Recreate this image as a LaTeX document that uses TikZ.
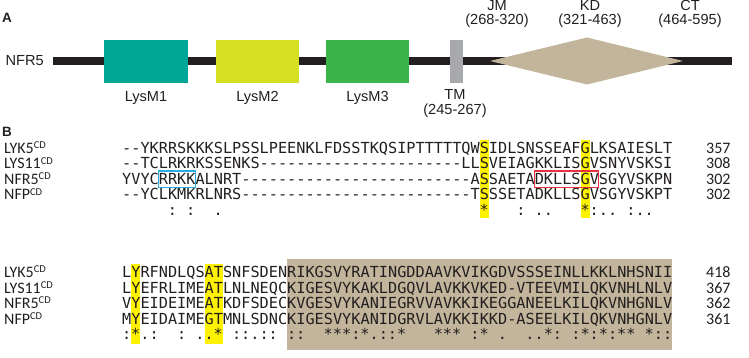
\documentclass[tikz,border=0pt]{standalone}
\usepackage{fontspec}
\setmainfont{Liberation Sans}
\newfontfamily\seqfont{DejaVu Sans Mono}[Ligatures=TeXOff]
\newfontfamily\labfont{Carlito}
\definecolor{lysmA}{RGB}{0,166,150}
\definecolor{lysmB}{RGB}{215,223,35}
\definecolor{lysmC}{RGB}{57,181,74}
\definecolor{tmgray}{RGB}{167,169,172}
\definecolor{kdtan}{RGB}{194,181,155}
\definecolor{hlyellow}{RGB}{255,242,0}
\definecolor{boxblue}{RGB}{41,171,226}
\definecolor{boxred}{RGB}{232,48,64}
\definecolor{ink}{RGB}{35,31,32}
\newcommand\cdsup{\raisebox{4.6pt}{\fontsize{10.5}{10.5}\selectfont CD}}
\begin{document}
\begin{tikzpicture}[x=1pt,y=-1pt,
  dom/.style={draw=none, inner sep=0pt, minimum height=43pt},
  dlab/.style={anchor=base, inner sep=0pt, font=\fontsize{14.6}{14.6}\selectfont, text=ink},
  panel/.style={anchor=base west, inner sep=0pt, font=\bfseries\fontsize{13.5}{13.5}\selectfont, text=ink},
  seq/.style={anchor=base west, inner sep=0pt, font=\seqfont\fontsize{15.23}{15.23}\selectfont, text=ink},
  cons/.style={anchor=base, inner sep=0pt, font=\seqfont\fontsize{15.23}{15.23}\selectfont, text=ink},
  rowlab/.style={anchor=base west, inner sep=0pt, font=\labfont\fontsize{16}{16}\selectfont, text=ink},
  numlab/.style={anchor=base west, inner sep=0pt, font=\labfont\fontsize{16}{16}\selectfont, text=ink},
  backbone/.style={line width=8pt, draw=ink},
  hl/.style={fill=hlyellow, draw=none},
  motifbox/.style={line width=1.2pt}
]
\useasboundingbox (0,0) rectangle (749,358);
% ---------------- Panel A ----------------
\node[panel] (pA) at (2,23) {A};
\coordinate (bbL) at (53,61);
\coordinate (bbR) at (732,61);
\draw[backbone] (bbL) -- (bbR);
\node[anchor=base east, inner sep=0pt, font=\fontsize{14.6}{14.6}\selectfont, text=ink] (nfr5) at (44,66) {NFR5};
\node[dom, fill=lysmA, minimum width=84pt] (lysm1) at (146,61.5) {};
\node[dom, fill=lysmB, minimum width=83pt] (lysm2) at (257.5,61.5) {};
\node[dom, fill=lysmC, minimum width=83pt] (lysm3) at (367.5,61.5) {};
\node[dom, fill=tmgray, minimum width=13pt] (tm) at (456.5,61.5) {};
\fill[kdtan] (490,61) -- (587,37.5) -- (683,61) -- (587,84.5) -- cycle;
\node[dlab] (l1) at (146,102) {LysM1};
\node[dlab] (l2) at (257.5,102) {LysM2};
\node[dlab] (l3) at (367.5,102) {LysM3};
\node[dlab] (ltm) at (455,99.5) {TM};
\node[dlab] (ltmr) at (455,115) {(245-267)};
\node[dlab] (ljm) at (497,10.5) {JM};
\node[dlab] (ljmr) at (497,25) {(268-320)};
\node[dlab] (lkd) at (590,10.5) {KD};
\node[dlab] (lkdr) at (590,25) {(321-463)};
\node[dlab] (lct) at (690,10.5) {CT};
\node[dlab] (lctr) at (690,25) {(464-595)};
% ---------------- Panel B ----------------
\node[panel] (pB) at (2,137) {B};
% highlights block 1
\fill[hl] ({122+39*9.17},140) rectangle ({122+40*9.17},218);
\fill[hl] ({122+50*9.17},140) rectangle ({122+51*9.17},218);
% block 2 background and highlights
\fill[kdtan] ({122+18*9.17},259) rectangle ({122+60*9.17},350);
\fill[hl] ({122+1*9.17},264) rectangle ({122+2*9.17},344);
\fill[hl] ({122+9*9.17},264) rectangle ({122+11*9.17},344);
% block 1 rows
\node[rowlab] (r1a) at (4,153.5) {LYK5\cdsup};
\node[rowlab] (r1b) at (4,169) {LYS11\cdsup};
\node[rowlab] (r1c) at (4,184.5) {NFR5\cdsup};
\node[rowlab] (r1d) at (4,200) {NFP\cdsup};
\node[seq] (s1a) at (122,153.5) {--YKRRSKKKSLPSSLPEENKLFDSSTKQSIPTTTTTQWSIDLSNSSEAFGLKSAIESLT};
\node[seq] (s1b) at (122,169) {--TCLRKRKSSENKS----------------------LLSVEIAGKKLISGVSNYVSKSI};
\node[seq] (s1c) at (122,184.5) {YVYCRRKKALNRT-------------------------ASSAETADKLLSGVSGYVSKPN};
\node[seq] (s1d) at (122,200) {--YCLKMKRLNRS-------------------------TSSSETADKLLSGVSGYVSKPT};
\foreach \c/\ch [count=\i] in {6/:,8/:,11/.,40/*,44/:,46/.,47/.,51/*,52/:,53/.,54/.,56/:,57/.,58/.}
  \node[cons] (c1-\i) at ({122+(\c-0.5)*9.17},215.5) {\ch};
\node[numlab] (n1a) at (706,153.5) {357};
\node[numlab] (n1b) at (706,169) {308};
\node[numlab] (n1c) at (706,184.5) {302};
\node[numlab] (n1d) at (706,200) {302};
\draw[motifbox, draw=boxblue] ({122+4*9.17},171) rectangle ({122+8*9.17},187.5);
\draw[motifbox, draw=boxred] ({122+45*9.17},171) rectangle ({122+52*9.17},187.5);
% block 2 rows
\node[rowlab] (r2a) at (4,277.5) {LYK5\cdsup};
\node[rowlab] (r2b) at (4,293) {LYS11\cdsup};
\node[rowlab] (r2c) at (4,308.5) {NFR5\cdsup};
\node[rowlab] (r2d) at (4,324) {NFP\cdsup};
\node[seq] (s2a) at (122,277.5) {LYRFNDLQSATSNFSDENRIKGSVYRATINGDDAAVKVIKGDVSSSEINLLKKLNHSNII};
\node[seq] (s2b) at (122,293) {LYEFRLIMEATLNLNEQCKIGESVYKAKLDGQVLAVKKVKED-VTEEVMILQKVNHLNLV};
\node[seq] (s2c) at (122,308.5) {VYEIDEIMEATKDFSDECKVGESVYKANIEGRVVAVKKIKEGGANEELKILQKVNHGNLV};
\node[seq] (s2d) at (122,324) {MYEIDAIMEGTMNLSDNCKIGESVYKANIDGRVLAVKKIKKD-ASEELKILQKVNHGNLV};
\foreach \c/\ch [count=\i] in {1/:,2/*,3/.,4/:,7/:,9/.,10/.,11/*,13/:,14/:,15/.,16/:,17/:,19/:,20/:,23/*,24/*,25/*,26/:,27/*,28/.,29/:,30/:,31/*,35/*,36/*,37/*,39/:,40/*,42/.,45/.,46/.,47/*,48/:,50/:,51/*,52/:,53/*,54/:,55/*,56/*,58/*,59/:,60/:}
  \node[cons] (c2-\i) at ({122+(\c-0.5)*9.17},339.5) {\ch};
\node[numlab] (n2a) at (706,277.5) {418};
\node[numlab] (n2b) at (706,293) {367};
\node[numlab] (n2c) at (706,308.5) {362};
\node[numlab] (n2d) at (706,324) {361};
\end{tikzpicture}
\end{document}
